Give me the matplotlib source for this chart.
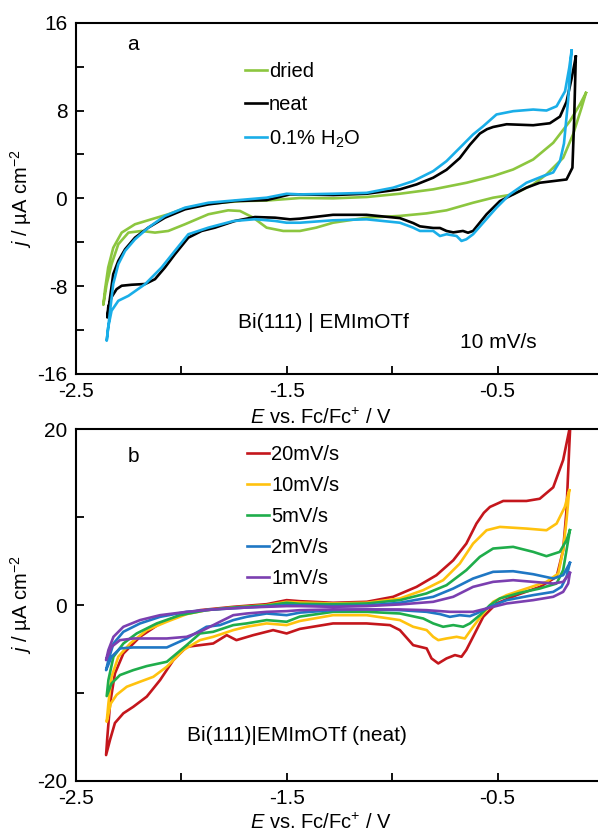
import numpy as np
import matplotlib
matplotlib.use("Agg")
import matplotlib.pyplot as plt
from matplotlib.ticker import MultipleLocator

plt.rcParams['font.family'] = ['Liberation Sans', 'DejaVu Sans']
plt.rcParams['mathtext.fontset'] = 'custom'
plt.rcParams['mathtext.rm'] = 'Liberation Sans'
plt.rcParams['mathtext.it'] = 'Liberation Sans:italic'
plt.rcParams['axes.unicode_minus'] = False

# (E / V vs Fc/Fc+, j / uA cm-2), each loop: positive vertex -> cathodic sweep -> anodic sweep
dried = [(-0.081, 9.6), (-0.102, 8.24), (-0.142, 5.82), (-0.189, 3.69), (-0.268, 2.18), (-0.331, 1.27),
         (-0.426, 0.36), (-0.521, 0.06), (-0.616, -0.4), (-0.742, -1.09), (-0.837, -1.37), (-0.963, -1.6),
         (-1.121, -1.76), (-1.28, -2.22), (-1.36, -2.67), (-1.437, -2.97), (-1.516, -2.97), (-1.595, -2.67),
         (-1.658, -1.76), (-1.721, -1.15), (-1.777, -1.09), (-1.871, -1.45), (-1.982, -2.36), (-2.061, -2.97),
         (-2.124, -3.12), (-2.187, -2.97), (-2.25, -3.12), (-2.298, -4.18), (-2.33, -6.0), (-2.353, -7.8),
         (-2.369, -9.7),
         (-2.361, -8.3), (-2.346, -6.3), (-2.322, -4.5), (-2.282, -3.12), (-2.219, -2.36), (-2.14, -1.9),
         (-2.061, -1.45), (-1.982, -0.9), (-1.871, -0.5), (-1.72, -0.25), (-1.595, -0.2), (-1.437, 0.03),
         (-1.28, 0.0), (-1.12, 0.12), (-0.963, 0.42), (-0.805, 0.82), (-0.647, 1.42), (-0.521, 2.03),
         (-0.426, 2.63), (-0.331, 3.54), (-0.236, 5.06), (-0.157, 7.03), (-0.11, 8.54), (-0.081, 9.6)]

neat = [(-0.129, 12.9), (-0.137, 7.0), (-0.145, 2.79), (-0.173, 1.72), (-0.30, 1.42), (-0.363, 0.97),
        (-0.489, -0.25), (-0.552, -1.45), (-0.616, -2.97), (-0.64, -3.13), (-0.664, -2.97), (-0.71, -3.1),
        (-0.742, -2.97), (-0.773, -2.7), (-0.805, -2.7), (-0.868, -2.55), (-0.9, -2.25), (-0.963, -1.8),
        (-1.121, -1.5), (-1.28, -1.5), (-1.437, -1.85), (-1.484, -1.91), (-1.555, -1.76), (-1.65, -1.7),
        (-1.745, -2.06), (-1.84, -2.67), (-1.903, -2.97), (-1.966, -3.58), (-2.03, -5.1), (-2.077, -6.3),
        (-2.124, -7.36), (-2.17, -7.8), (-2.235, -7.87), (-2.282, -7.96), (-2.306, -8.27), (-2.33, -9.0),
        (-2.346, -9.94), (-2.35, -10.85),
        (-2.337, -9.0), (-2.322, -6.9), (-2.298, -5.7), (-2.266, -4.64), (-2.219, -3.58), (-2.156, -2.67),
        (-2.077, -1.76), (-1.982, -1.0), (-1.871, -0.55), (-1.745, -0.25), (-1.595, -0.16), (-1.484, 0.36),
        (-1.437, 0.36), (-1.279, 0.3), (-1.121, 0.42), (-0.963, 0.82), (-0.884, 1.27), (-0.805, 1.88),
        (-0.742, 2.6), (-0.679, 3.67), (-0.631, 4.88), (-0.584, 5.9), (-0.55, 6.3), (-0.521, 6.5),
        (-0.457, 6.75), (-0.331, 6.66), (-0.252, 6.84), (-0.204, 7.45), (-0.173, 8.8), (-0.149, 10.9),
        (-0.129, 12.9)]

water = [(-0.149, 13.45), (-0.165, 9.0), (-0.185, 5.0), (-0.204, 3.39), (-0.236, 2.36), (-0.284, 2.03),
         (-0.363, 1.42), (-0.442, 0.36), (-0.505, -0.85), (-0.568, -2.22), (-0.616, -3.27), (-0.648, -3.73),
         (-0.671, -3.88), (-0.694, -3.43), (-0.742, -3.27), (-0.773, -3.43), (-0.805, -2.97), (-0.868, -2.97),
         (-0.9, -2.67), (-0.963, -2.22), (-1.121, -1.91), (-1.28, -2.0), (-1.437, -2.22), (-1.5, -2.22),
         (-1.555, -2.06), (-1.65, -1.9), (-1.753, -2.07), (-1.871, -2.67), (-1.966, -3.27), (-2.03, -4.79),
         (-2.093, -6.3), (-2.17, -7.8), (-2.25, -8.88), (-2.298, -9.33), (-2.33, -10.24), (-2.346, -11.76),
         (-2.353, -12.97),
         (-2.337, -10.24), (-2.322, -7.8), (-2.298, -6.0), (-2.266, -4.79), (-2.219, -3.73), (-2.156, -2.67),
         (-2.077, -1.6), (-1.982, -0.85), (-1.871, -0.4), (-1.753, -0.2), (-1.595, 0.06), (-1.5, 0.42),
         (-1.437, 0.36), (-1.28, 0.42), (-1.121, 0.5), (-0.995, 0.97), (-0.9, 1.57), (-0.805, 2.48),
         (-0.742, 3.39), (-0.679, 4.6), (-0.616, 5.82), (-0.568, 6.57), (-0.505, 7.64), (-0.426, 7.94),
         (-0.331, 8.09), (-0.268, 8.0), (-0.22, 8.39), (-0.18, 9.75), (-0.16, 11.9), (-0.149, 13.45)]

rate20 = [(-0.155, 20.5), (-0.16, 18.0), (-0.173, 10.8), (-0.189, 6.25), (-0.22, 3.22), (-0.299, 2.08),
          (-0.41, 1.14), (-0.505, 0.19), (-0.568, -1.33), (-0.616, -3.6), (-0.648, -5.1), (-0.671, -5.87),
          (-0.702, -5.68), (-0.742, -6.06), (-0.781, -6.63), (-0.813, -6.06), (-0.836, -4.92), (-0.9, -4.55),
          (-0.963, -2.84), (-1.01, -2.27), (-1.121, -2.08), (-1.28, -2.08), (-1.437, -2.7), (-1.5, -3.22),
          (-1.564, -2.84), (-1.658, -3.41), (-1.738, -3.98), (-1.784, -3.41), (-1.848, -4.36), (-1.911, -4.55),
          (-1.974, -4.74), (-2.037, -6.25), (-2.1, -8.52), (-2.163, -10.4), (-2.227, -11.56), (-2.274, -12.3),
          (-2.314, -13.4), (-2.337, -15.3), (-2.356, -17.05),
          (-2.35, -15.0), (-2.337, -11.2), (-2.314, -7.77), (-2.274, -5.5), (-2.195, -3.6), (-2.1, -2.08),
          (-2.005, -1.14), (-1.911, -0.57), (-1.753, -0.19), (-1.595, 0.11), (-1.5, 0.57), (-1.437, 0.45),
          (-1.28, 0.27), (-1.12, 0.38), (-0.995, 0.95), (-0.884, 2.08), (-0.79, 3.4), (-0.71, 5.1),
          (-0.648, 7.0), (-0.6, 9.28), (-0.565, 10.5), (-0.536, 11.17), (-0.473, 11.85), (-0.363, 11.85),
          (-0.3, 12.1), (-0.236, 13.4), (-0.189, 16.5), (-0.155, 20.5)]

rate10 = [(-0.16, 13.07), (-0.173, 9.66), (-0.189, 6.25), (-0.212, 3.6), (-0.268, 2.65), (-0.363, 1.89),
          (-0.457, 1.14), (-0.521, 0.38), (-0.568, -0.95), (-0.616, -2.46), (-0.655, -3.79), (-0.694, -3.6),
          (-0.742, -3.79), (-0.781, -3.98), (-0.805, -3.6), (-0.836, -2.84), (-0.9, -2.46), (-0.963, -1.7),
          (-1.121, -1.14), (-1.28, -1.14), (-1.437, -1.8), (-1.5, -2.27), (-1.595, -2.08), (-1.69, -2.46),
          (-1.753, -2.84), (-1.848, -3.6), (-1.911, -3.98), (-1.99, -5.11), (-2.068, -7.0), (-2.132, -8.15),
          (-2.195, -8.71), (-2.258, -9.28), (-2.306, -10.2), (-2.334, -11.2), (-2.353, -13.26),
          (-2.345, -11.2), (-2.33, -8.15), (-2.298, -5.87), (-2.242, -4.36), (-2.163, -2.84), (-2.068, -1.89),
          (-1.974, -1.02), (-1.88, -0.57), (-1.753, -0.27), (-1.595, 0.0), (-1.5, 0.38), (-1.437, 0.3),
          (-1.28, 0.19), (-1.12, 0.27), (-0.963, 0.76), (-0.853, 1.7), (-0.758, 2.84), (-0.679, 4.73),
          (-0.616, 7.0), (-0.552, 8.52), (-0.489, 8.9), (-0.363, 8.71), (-0.268, 8.52), (-0.22, 9.28),
          (-0.181, 11.17), (-0.16, 13.07)]

rate5 = [(-0.157, 8.52), (-0.173, 6.25), (-0.189, 3.98), (-0.22, 2.46), (-0.3, 1.89), (-0.394, 1.4),
         (-0.489, 0.76), (-0.536, 0.0), (-0.584, -1.14), (-0.631, -2.08), (-0.663, -2.46), (-0.71, -2.27),
         (-0.758, -2.46), (-0.805, -2.08), (-0.852, -1.52), (-0.963, -0.95), (-1.12, -0.76), (-1.28, -0.76),
         (-1.437, -1.3), (-1.5, -1.89), (-1.595, -1.7), (-1.69, -2.08), (-1.753, -2.27), (-1.848, -3.03),
         (-1.911, -3.22), (-1.974, -4.55), (-2.068, -6.44), (-2.163, -6.93), (-2.227, -7.39), (-2.29, -7.95),
         (-2.33, -8.9), (-2.353, -10.34),
         (-2.345, -8.52), (-2.321, -5.87), (-2.274, -4.36), (-2.211, -3.22), (-2.116, -2.08), (-2.005, -1.14),
         (-1.88, -0.57), (-1.753, -0.27), (-1.595, -0.04), (-1.5, 0.27), (-1.437, 0.15), (-1.28, 0.11),
         (-1.12, 0.19), (-0.963, 0.57), (-0.837, 1.33), (-0.742, 2.27), (-0.648, 3.98), (-0.584, 5.49),
         (-0.521, 6.44), (-0.426, 6.63), (-0.331, 6.06), (-0.268, 5.57), (-0.205, 6.06), (-0.173, 7.39),
         (-0.157, 8.52)]

rate2 = [(-0.157, 4.81), (-0.173, 3.22), (-0.197, 2.08), (-0.236, 1.51), (-0.331, 1.14), (-0.457, 0.57),
         (-0.536, -0.19), (-0.6, -0.95), (-0.631, -1.25), (-0.679, -1.14), (-0.726, -1.33), (-0.773, -1.02),
         (-0.836, -0.76), (-0.963, -0.57), (-1.12, -0.49), (-1.28, -0.57), (-1.437, -0.85), (-1.5, -1.14),
         (-1.595, -0.95), (-1.69, -1.33), (-1.753, -1.7), (-1.816, -2.27), (-1.88, -2.46), (-1.974, -3.79),
         (-2.068, -4.81), (-2.148, -4.81), (-2.227, -4.81), (-2.29, -4.92), (-2.33, -5.87), (-2.356, -7.39),
         (-2.345, -6.25), (-2.321, -4.36), (-2.274, -3.03), (-2.195, -2.08), (-2.1, -1.33), (-1.974, -0.76),
         (-1.848, -0.49), (-1.69, -0.27), (-1.5, 0.0), (-1.437, -0.02), (-1.28, -0.11), (-1.12, -0.04),
         (-0.963, 0.27), (-0.805, 0.95), (-0.71, 1.89), (-0.616, 3.03), (-0.521, 3.79), (-0.426, 3.86),
         (-0.331, 3.52), (-0.236, 3.03), (-0.189, 3.41), (-0.157, 4.81)]

rate1 = [(-0.157, 3.67), (-0.165, 2.46), (-0.189, 1.51), (-0.236, 0.95), (-0.331, 0.57), (-0.457, 0.19),
         (-0.552, -0.38), (-0.616, -0.76), (-0.726, -0.76), (-0.836, -0.57), (-0.963, -0.49), (-1.12, -0.49),
         (-1.28, -0.49), (-1.437, -0.57), (-1.5, -0.68), (-1.595, -0.76), (-1.69, -0.95), (-1.753, -1.14),
         (-1.832, -2.08), (-1.911, -3.03), (-1.974, -3.6), (-2.068, -3.79), (-2.163, -3.79), (-2.227, -3.79),
         (-2.29, -3.98), (-2.33, -4.74), (-2.356, -6.25),
         (-2.345, -5.11), (-2.321, -3.6), (-2.274, -2.46), (-2.195, -1.7), (-2.1, -1.14), (-1.974, -0.76),
         (-1.848, -0.49), (-1.69, -0.27), (-1.5, -0.11), (-1.437, -0.11), (-1.28, -0.19), (-1.12, -0.11),
         (-0.963, 0.08), (-0.805, 0.38), (-0.71, 0.95), (-0.616, 2.08), (-0.521, 2.65), (-0.426, 2.84),
         (-0.331, 2.65), (-0.236, 2.46), (-0.189, 2.65), (-0.157, 3.67)]

labels_a = ['dried', 'neat', '0.1% H$_2$O']
colors_a = ['#8cc63f', '#000000', '#1aaee8']
labels_b = ['20mV/s', '10mV/s', '5mV/s', '2mV/s', '1mV/s']
colors_b = ['#c4161c', '#ffc20e', '#1fad4b', '#1f77c4', '#7b3fb0']

W, H = 598, 834
fig = plt.figure(figsize=(W / 100, H / 100), dpi=100)

def px_axes(left, top, right, bottom):
    return fig.add_axes([left / W, 1 - bottom / H, (right - left) / W, (bottom - top) / H])

ax_a = px_axes(75.7, 22.7, 603, 374)
ax_b = px_axes(75.7, 429.3, 603, 781)

def style(ax, ylim, ymaj, ymin, xlab_y):
    ax.set_xlim(-2.5, 0.0)
    ax.set_ylim(*ylim)
    ax.xaxis.set_minor_locator(MultipleLocator(0.5))
    ax.yaxis.set_major_locator(MultipleLocator(ymaj))
    ax.yaxis.set_minor_locator(MultipleLocator(ymin))
    ax.set_xticks([-2.5, -1.5, -0.5])
    ax.tick_params(which='both', direction='in', length=6, width=1.3, labelsize=15, pad=6)
    for s in ax.spines.values():
        s.set_linewidth(1.5)
    ax.set_xlabel('$E$ vs. Fc/Fc$^{+}$ / V', fontsize=14.5)
    ax.xaxis.set_label_coords(0.464, xlab_y)
    ax.set_ylabel('$j$ / µA cm$^{-2}$', fontsize=14.5)
    ax.yaxis.set_label_coords(-0.08, 0.5)

for data, lab, col in zip([dried, neat, water], labels_a, colors_a):
    arr = np.array(data)
    ax_a.plot(arr[:, 0], arr[:, 1], color=col, lw=1.9, label=lab, solid_joinstyle='round')
style(ax_a, (-16, 16), 8, 4, -0.097)
ax_a.legend(loc='upper left', bbox_to_anchor=(0.321, 0.888), frameon=False, fontsize=14.5,
            handlelength=1.1, handletextpad=0.1, labelspacing=0.7, borderpad=0, borderaxespad=0)
ax_a.text(0.109, 0.937, 'a', transform=ax_a.transAxes, fontsize=15, ha='center', va='center')
ax_a.text(0.308, 0.148, 'Bi(111) | EMImOTf', transform=ax_a.transAxes, fontsize=15, va='center')
ax_a.text(0.729, 0.091, '10 mV/s', transform=ax_a.transAxes, fontsize=15, va='center')

for data, lab, col in zip([rate20, rate10, rate5, rate2, rate1], labels_b, colors_b):
    arr = np.array(data)
    ax_b.plot(arr[:, 0], arr[:, 1], color=col, lw=1.9, label=lab, solid_joinstyle='round')
style(ax_b, (-20, 20), 20, 10, -0.09)
ax_b.legend(loc='upper left', bbox_to_anchor=(0.325, 0.955), frameon=False, fontsize=14.5,
            handlelength=1.1, handletextpad=0.1, labelspacing=0.6, borderpad=0, borderaxespad=0)
ax_b.text(0.109, 0.924, 'b', transform=ax_b.transAxes, fontsize=15, ha='center', va='center')
ax_b.text(0.211, 0.128, 'Bi(111)|EMImOTf (neat)', transform=ax_b.transAxes, fontsize=15, va='center')

fig.savefig('out.png', dpi=100)
